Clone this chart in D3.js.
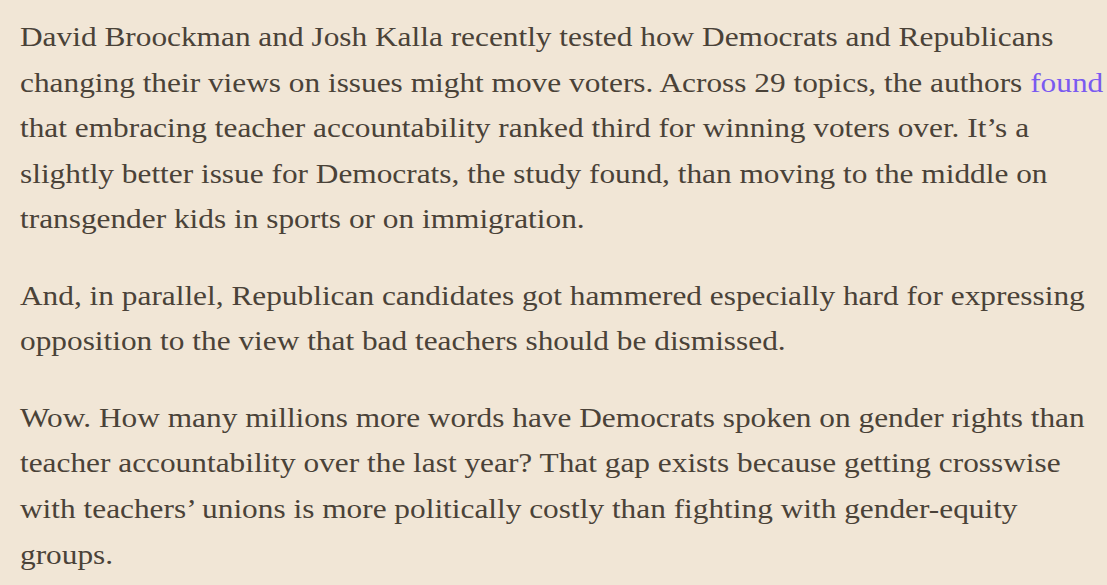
<!DOCTYPE html>
<html>
<head>
<meta charset="utf-8">
<script src="https://cdn.jsdelivr.net/npm/d3@7"></script>
<style>
  html, body { margin: 0; padding: 0; background: #f1e6d6; }
  svg { display: block; }
</style>
</head>
<body>
<div id="page"></div>
<script>
// text of the passage, one string per rendered line; [link] marks the hyperlink
const para1 = [
  "David Broockman and Josh Kalla recently tested how Democrats and Republicans",
  "changing their views on issues might move voters. Across 29 topics, the authors [found]",
  "that embracing teacher accountability ranked third for winning voters over. It\u2019s a",
  "slightly better issue for Democrats, the study found, than moving to the middle on",
  "transgender kids in sports or on immigration."
]
const para2 = [
  "And, in parallel, Republican candidates got hammered especially hard for expressing",
  "opposition to the view that bad teachers should be dismissed."
]
const para3 = [
  "Wow. How many millions more words have Democrats spoken on gender rights than",
  "teacher accountability over the last year? That gap exists because getting crosswise",
  "with teachers\u2019 unions is more politically costly than fighting with gender-equity",
  "groups."
]
const paragraphs = [para1, para2, para3]

const width = 1107
const height = 585
const marginLeft = 20
const firstBaseline = 46
const lineHeight = 45.6
const paraGap = 30.8
// the original face is a bit wider than Liberation Serif; fit on the first line
const firstLineWidth = 1034

var svg = d3.select("#page")
  .append("svg")
  .attr("width", width)
  .attr("height", height)

svg.append("rect")
  .attr("width", width)
  .attr("height", height)
  .attr("fill", "#f1e6d6")

var body = svg.append("g")
  .attr("font-family", "'Liberation Serif', 'Times New Roman', serif")
  .attr("font-size", 28)
  .attr("fill", "#4a4238")

// flatten into lines with a y position
var lines = []
var y = firstBaseline
paragraphs.forEach((p, pi) => {
  if (pi > 0) y += paraGap
  p.forEach(txt => {
    lines.push({ txt, y })
    y += lineHeight
  })
})

var text = body.selectAll("text")
  .data(lines)
  .enter().append("text")
  .attr("x", 0)
  .attr("y", d => d.y)

text.each(function (d) {
  var el = d3.select(this)
  d.txt.split(/(\[[^\]]+\])/).filter(s => s.length).forEach(part => {
    if (part[0] === "[") {
      el.append("tspan").attr("fill", "#7a5af0").text(part.slice(1, -1))
    } else {
      el.append("tspan").text(part)
    }
  })
})

// stretch horizontally so the face's width matches the original layout
var natural = text.node().getComputedTextLength()
var k = firstLineWidth / natural
body.attr("transform", `translate(${marginLeft},0) scale(${k},1)`)
</script>
</body>
</html>
